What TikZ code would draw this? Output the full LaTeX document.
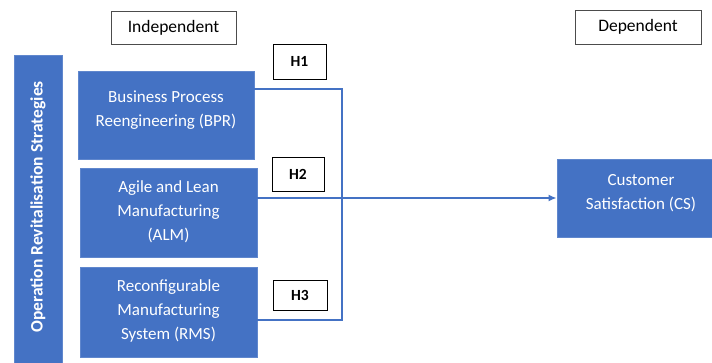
\documentclass[tikz,border=0pt]{standalone}
\usepackage{fontspec}
\setmainfont{Carlito}
\usetikzlibrary{arrows.meta}
\definecolor{bblue}{HTML}{4472C4}
\definecolor{lineblue}{HTML}{4472C4}
\begin{document}
\begin{tikzpicture}[x=1pt,y=-1pt,
  bluebox/.style={draw=bblue!85!white,line width=0.8pt,fill=bblue,text=white,align=center,font=\fontsize{17}{24}\selectfont},
  boxtext/.style={text=white,align=center,font=\fontsize{17}{24}\selectfont,inner sep=0pt},
  labelbox/.style={draw=black!70,line width=0.8pt,fill=white,font=\fontsize{17.5}{20}\selectfont},
  hbox/.style={draw=black,line width=1pt,fill=white,font=\bfseries\fontsize{15.5}{18}\selectfont},
  conn/.style={draw=lineblue,line width=1.8pt}]
\useasboundingbox (0,0) rectangle (712,362);
\path[fill=white] (0,0) rectangle (712,362);
% header labels
\node[labelbox,minimum width=125pt,minimum height=33pt] (ind) at (173.5,27.5) {Independent};
\node[labelbox,minimum width=126pt,minimum height=34pt] (dep) at (638,27) {Dependent};
% vertical bar
\node[bluebox,minimum width=48pt,minimum height=309pt,inner sep=0pt] (bar) at (38,210) {};
\node[text=white,font=\bfseries\fontsize{17.5}{20}\selectfont,rotate=90] (bartxt) at (38,207) {Operation Revitalisation Strategies};
% independent boxes
\node[bluebox,minimum width=176pt,minimum height=88pt,inner sep=0pt] (bpr) at (166,115) {};
\node[boxtext] (bprt) at (166,110) {Business Process\\Reengineering (BPR)};
\node[bluebox,minimum width=177pt,minimum height=89pt,inner sep=0pt] (alm) at (168.5,212.5) {};
\node[boxtext] (almt) at (168.5,212) {Agile and Lean\\Manufacturing\\(ALM)};
\node[bluebox,minimum width=177pt,minimum height=90pt,inner sep=0pt] (rms) at (168.5,312) {};
\node[boxtext] (rmst) at (168.5,311) {Reconfigurable\\Manufacturing\\System (RMS)};
% dependent box
\node[bluebox,minimum width=157pt,minimum height=78pt,inner sep=0pt] (cs) at (635.5,198) {};
\node[boxtext] (cst) at (641,193) {Customer\\Satisfaction (CS)};
% hypothesis labels
\node[hbox,minimum width=53pt,minimum height=35pt] (h1) at (299.5,61.5) {H1};
\node[hbox,minimum width=52pt,minimum height=34pt] (h2) at (298,174) {H2};
\node[hbox,minimum width=54pt,minimum height=30pt] (h3) at (300,295) {H3};
% connectors
\coordinate (j1) at (342,89);
\coordinate (j2) at (342,320);
\draw[conn] (bpr.east |- j1) -- (j1) -- (j2) -- (rms.east |- j2);
\draw[conn,-{Latex[length=8pt,width=7pt]}] (alm.east |- 0,198) -- (cs.west |- 0,198);
\end{tikzpicture}
\end{document}
